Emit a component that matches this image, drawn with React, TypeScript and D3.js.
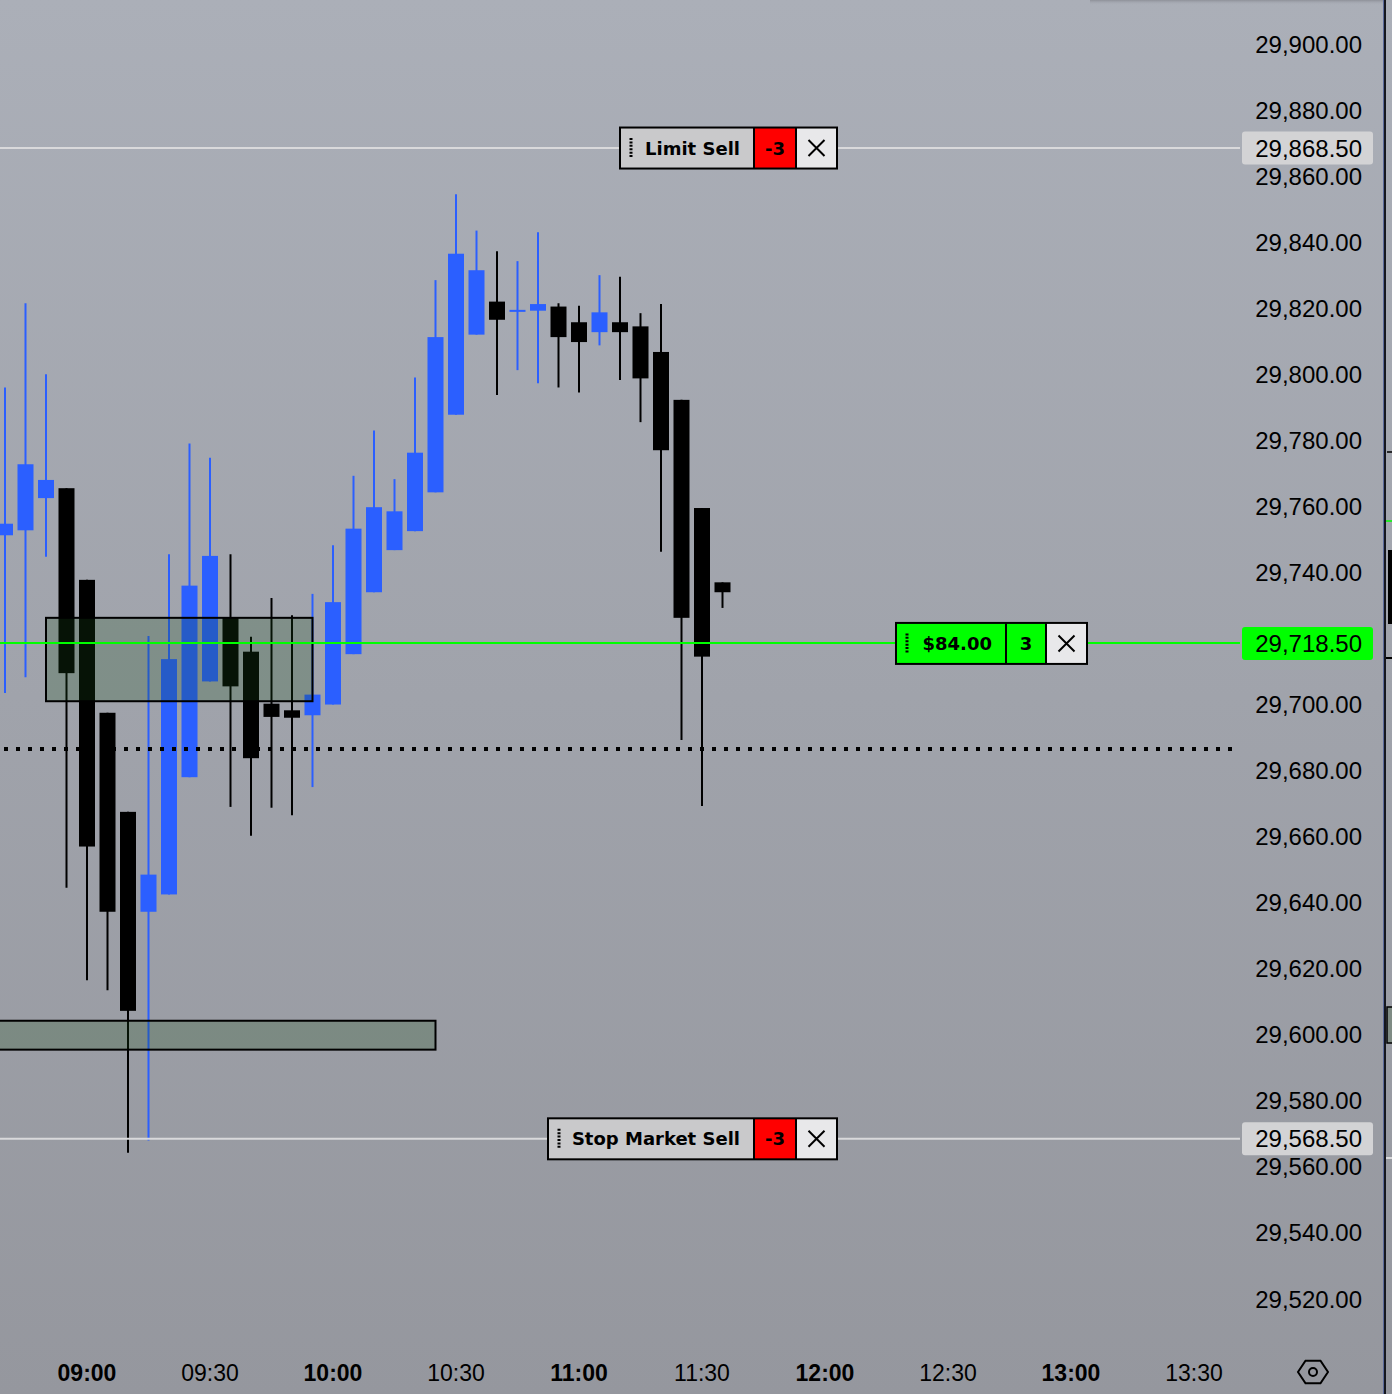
import React, { useEffect, useRef } from "react";
import * as d3 from "d3";

// 5-minute candles
const times = [
  "08:40", "08:45", "08:50", "08:55", "09:00", "09:05", "09:10", "09:15",
  "09:20", "09:25", "09:30", "09:35", "09:40", "09:45", "09:50", "09:55",
  "10:00", "10:05", "10:10", "10:15", "10:20", "10:25", "10:30", "10:35",
  "10:40", "10:45", "10:50", "10:55", "11:00", "11:05", "11:10", "11:15",
  "11:20", "11:25", "11:30", "11:35",
];
const opens = [
  29751.25, 29752.75, 29762.5, 29765.5, 29737.75, 29697.5, 29667.5, 29637.25,
  29642.5, 29678, 29707, 29726.5, 29716, 29700.25, 29698.25, 29696.75,
  29700, 29715.25, 29734, 29746.75, 29752.5, 29764.25, 29787.75, 29812,
  29822, 29819.25, 29819.25, 29820.5, 29815.75, 29812.75, 29815.75, 29814.5,
  29806.75, 29792.25, 29759.5, 29737,
];
const highs = [
  29796, 29821.5, 29800, 29765.5, 29737.75, 29697.5, 29667.5, 29720.75,
  29745.5, 29779, 29774.75, 29745.5, 29720.5, 29732.25, 29727, 29733.5,
  29748.25, 29769.25, 29783, 29768.25, 29799, 29828.5, 29854.5, 29843.5,
  29837.25, 29834.25, 29843, 29821.5, 29820.75, 29830, 29829.5, 29818.5,
  29821.25, 29792.25, 29759.5, 29737,
];
const lows = [
  29703.5, 29708.25, 29744.75, 29644.5, 29616.5, 29613.5, 29564.25, 29568,
  29642.5, 29678, 29707, 29669, 29660.25, 29668.75, 29666.5, 29675,
  29700, 29715.25, 29734, 29746.75, 29752.5, 29764.25, 29787.75, 29812,
  29793.75, 29801.25, 29797.25, 29796, 29794.5, 29808.75, 29798.25, 29785.5,
  29746.25, 29689.25, 29669.25, 29729.25,
];
const closes = [
  29754.75, 29772.75, 29768, 29709.5, 29657, 29637.25, 29607.25, 29648.5,
  29713.75, 29736, 29745, 29705.5, 29683.75, 29696.25, 29696, 29703,
  29731, 29753.25, 29759.75, 29758.5, 29776.25, 29811.25, 29836.5, 29831.5,
  29816.5, 29819.5, 29821.25, 29811.25, 29809.75, 29818.75, 29812.75, 29798.75,
  29777, 29726.25, 29714.5, 29734,
];

const priceTicks = d3.range(29520, 29901, 20);
const timeTicks = ["09:00", "09:30", "10:00", "10:30", "11:00", "11:30", "12:00", "12:30", "13:00", "13:30"];

// supply/demand zones: [start, end, low, high]
const zoneStarts = ["08:50", "07:30"];
const zoneEnds = ["09:55", "10:25"];
const zoneLows = [29701, 29595.5];
const zoneHighs = [29726.25, 29604.25];

// working orders and position
const limitSellPrice = 29868.5;
const stopSellPrice = 29568.5;
const positionPrice = 29718.5;
const positionPnl = "$84.00";
const positionQty = "3";
const orderQty = "-3";
const dottedPrice = 29686.5;

const W = 1392;
const H = 1394;

const toMin = (t: string) => {
  const [h, m] = t.split(":").map(Number);
  return h * 60 + m;
};

const App: React.FC = () => {
  const svgRef = useRef<SVGSVGElement>(null);

  useEffect(() => {
    document.body.style.margin = "0";
    if (!svgRef.current) return;
    const svg = d3.select(svgRef.current);
    svg.selectAll("*").remove();

    const x = d3.scaleLinear().domain([540, 810]).range([87, 1194]);
    const y = d3.scaleLinear().domain([29520, 29900]).range([1299, 44]);
    const plotRight = 1240;

    const defs = svg.append("defs");
    const grad = defs.append("linearGradient")
      .attr("id", "bg").attr("x1", 0).attr("y1", 0).attr("x2", 0).attr("y2", 1);
    grad.append("stop").attr("offset", "0%").attr("stop-color", "#abafb8");
    grad.append("stop").attr("offset", "100%").attr("stop-color", "#95979e");
    const shadow = defs.append("linearGradient")
      .attr("id", "shadow").attr("x1", 0).attr("y1", 0).attr("x2", 0).attr("y2", 1);
    shadow.append("stop").attr("offset", "0%").attr("stop-color", "#8e9199");
    shadow.append("stop").attr("offset", "100%").attr("stop-color", "#abafb8").attr("stop-opacity", 0);

    svg.append("rect").attr("width", W).attr("height", H).attr("fill", "url(#bg)");
    svg.append("rect").attr("x", 1090).attr("y", 0).attr("width", 294).attr("height", 5)
      .attr("fill", "url(#shadow)");

    const candles = times.map((t, i) => ({
      t: toMin(t), o: opens[i], h: highs[i], l: lows[i], c: closes[i],
    }));
    const bodyW = 16;

    const cg = svg.append("g");
    candles.forEach((d) => {
      const up = d.c >= d.o;
      const col = up ? "#2b5fff" : "#000000";
      const cx = x(d.t);
      cg.append("line")
        .attr("x1", cx).attr("x2", cx)
        .attr("y1", y(d.h)).attr("y2", y(d.l))
        .attr("stroke", col).attr("stroke-width", 2);
      const top = y(Math.max(d.o, d.c));
      const bot = y(Math.min(d.o, d.c));
      cg.append("rect")
        .attr("x", cx - bodyW / 2).attr("y", top)
        .attr("width", bodyW).attr("height", Math.max(2, bot - top))
        .attr("fill", col);
    });

    // zones over candles
    zoneStarts.forEach((s, i) => {
      const x0 = Math.max(-4, x(toMin(s)));
      const x1 = x(toMin(zoneEnds[i]));
      svg.append("rect")
        .attr("x", x0).attr("y", y(zoneHighs[i]))
        .attr("width", x1 - x0).attr("height", y(zoneLows[i]) - y(zoneHighs[i]))
        .attr("fill", "rgba(25,79,25,0.24)")
        .attr("stroke", "#000").attr("stroke-width", 2);
    });

    // dotted level
    svg.append("line")
      .attr("x1", 4).attr("x2", 1234)
      .attr("y1", y(dottedPrice)).attr("y2", y(dottedPrice))
      .attr("stroke", "#000").attr("stroke-width", 4)
      .attr("stroke-dasharray", "4,8");

    // order lines
    [limitSellPrice, stopSellPrice].forEach((p) => {
      svg.append("line")
        .attr("x1", 0).attr("x2", plotRight)
        .attr("y1", y(p)).attr("y2", y(p))
        .attr("stroke", "#d9d9db").attr("stroke-width", 2);
    });
    svg.append("line")
      .attr("x1", 0).attr("x2", plotRight)
      .attr("y1", Math.round(y(positionPrice))).attr("y2", Math.round(y(positionPrice)))
      .attr("stroke", "#00ff00").attr("stroke-width", 2);

    const tag = (
      price: number, left: number, mid: number, right: number,
      label: string, labelFill: string, qty: string, qtyFill: string
    ) => {
      const cy = y(price);
      const h = 41;
      const g = svg.append("g");
      const xEnd = right + 41;
      g.append("rect").attr("x", left).attr("y", cy - h / 2)
        .attr("width", mid - left).attr("height", h).attr("fill", labelFill);
      g.append("rect").attr("x", mid).attr("y", cy - h / 2)
        .attr("width", right - mid).attr("height", h).attr("fill", qtyFill);
      g.append("rect").attr("x", right).attr("y", cy - h / 2)
        .attr("width", xEnd - right).attr("height", h).attr("fill", "#e8e8ea");
      g.append("rect").attr("x", left).attr("y", cy - h / 2)
        .attr("width", xEnd - left).attr("height", h)
        .attr("fill", "none").attr("stroke", "#000").attr("stroke-width", 2);
      [mid, right].forEach((sx) => {
        g.append("line").attr("x1", sx).attr("x2", sx)
          .attr("y1", cy - h / 2).attr("y2", cy + h / 2)
          .attr("stroke", "#000").attr("stroke-width", 2);
      });
      g.append("line")
        .attr("x1", left + 11).attr("x2", left + 11)
        .attr("y1", cy - 10).attr("y2", cy + 10)
        .attr("stroke", "#000").attr("stroke-width", 3)
        .attr("stroke-dasharray", "2,1.4");
      g.append("text")
        .attr("x", mid - 14).attr("y", cy + 6.5)
        .attr("text-anchor", "end")
        .style("font-family", "'DejaVu Sans', sans-serif")
        .style("font-weight", "bold").style("font-size", "18px")
        .text(label);
      g.append("text")
        .attr("x", (mid + right) / 2).attr("y", cy + 6.5)
        .attr("text-anchor", "middle")
        .style("font-family", "'DejaVu Sans', sans-serif")
        .style("font-weight", "bold").style("font-size", "18px")
        .text(qty);
      const xc = (right + xEnd) / 2;
      g.append("path")
        .attr("d", `M${xc - 8},${cy - 8}L${xc + 8},${cy + 8}M${xc + 8},${cy - 8}L${xc - 8},${cy + 8}`)
        .attr("stroke", "#000").attr("stroke-width", 2);
    };

    tag(limitSellPrice, 620, 754, 796, "Limit Sell", "#c9c9cb", orderQty, "#ff0000");
    tag(stopSellPrice, 548, 754, 796, "Stop Market Sell", "#c9c9cb", orderQty, "#ff0000");
    tag(positionPrice, 896, 1006, 1046, positionPnl, "#00ff00", positionQty, "#00ff00");

    // price axis (labels hidden under a price marker are skipped)
    const fmt = d3.format(",.2f");
    const axisFont = "'Liberation Sans', Arial, sans-serif";
    const markers = [limitSellPrice, stopSellPrice, positionPrice];
    svg.append("g").selectAll("text")
      .data(priceTicks.filter((p) => markers.every((m) => Math.abs(m - p) > 4)))
      .join("text")
      .attr("x", 1362).attr("y", (d) => y(d) + 8.5)
      .attr("text-anchor", "end")
      .style("font-family", axisFont).style("font-size", "24px")
      .attr("fill", "#000")
      .text((d) => fmt(d));

    const marker = (p: number, fill: string) => {
      svg.append("rect")
        .attr("x", 1242).attr("y", y(p) - 16.5)
        .attr("width", 131).attr("height", 33).attr("rx", 3)
        .attr("fill", fill);
      svg.append("text")
        .attr("x", 1362).attr("y", y(p) + 8.5)
        .attr("text-anchor", "end")
        .style("font-family", axisFont).style("font-size", "24px")
        .attr("fill", "#000")
        .text(fmt(p));
    };
    marker(limitSellPrice, "#d3d3d5");
    marker(stopSellPrice, "#d3d3d5");
    marker(positionPrice, "#00ff00");

    // time axis
    svg.append("g").selectAll("text")
      .data(timeTicks)
      .join("text")
      .attr("x", (d) => x(toMin(d)))
      .attr("y", 1381)
      .attr("text-anchor", "middle")
      .style("font-family", axisFont).style("font-size", "23px")
      .style("font-weight", (d) => (toMin(d) % 60 === 0 ? "bold" : "normal"))
      .attr("fill", "#000")
      .text((d) => d);

    // settings hexagon
    const hx = 1313, hy = 1372, hr = 15;
    const hex = d3.range(6).map((k) => {
      const a = (Math.PI / 3) * k;
      return [hx + hr * Math.cos(a), hy + hr * 0.87 * Math.sin(a)];
    });
    svg.append("path")
      .attr("d", "M" + hex.map((p) => p.join(",")).join("L") + "Z")
      .attr("fill", "none").attr("stroke", "#000").attr("stroke-width", 2);
    svg.append("circle").attr("cx", hx).attr("cy", hy).attr("r", 4)
      .attr("fill", "none").attr("stroke", "#000").attr("stroke-width", 2);

    // edge of the neighbouring pane
    svg.append("rect").attr("x", 1383).attr("y", 0).attr("width", 3).attr("height", H)
      .attr("fill", "#15171f");
    svg.append("rect").attr("x", 1383).attr("y", 0).attr("width", 1).attr("height", H)
      .attr("fill", "#5b6a9a");
    svg.append("line").attr("x1", 1386).attr("x2", 1392).attr("y1", 521).attr("y2", 521)
      .attr("stroke", "#00ff00").attr("stroke-width", 1.5);
    svg.append("line").attr("x1", 1387).attr("x2", 1392).attr("y1", 452).attr("y2", 452)
      .attr("stroke", "#000").attr("stroke-width", 1.5);
    svg.append("rect").attr("x", 1388).attr("y", 550).attr("width", 4).attr("height", 74)
      .attr("fill", "#000");
    svg.append("line").attr("x1", 1386).attr("x2", 1392).attr("y1", 658).attr("y2", 658)
      .attr("stroke", "#000").attr("stroke-width", 2);
    svg.append("rect").attr("x", 1387).attr("y", 1007).attr("width", 6).attr("height", 36)
      .attr("fill", "#7f8b84").attr("stroke", "#000").attr("stroke-width", 1.5);
    svg.append("line").attr("x1", 1386).attr("x2", 1392).attr("y1", 1158).attr("y2", 1158)
      .attr("stroke", "#d9d9db").attr("stroke-width", 2);
  }, []);

  return <svg ref={svgRef} width={W} height={H} style={{ display: "block" }} />;
};

export default App;
